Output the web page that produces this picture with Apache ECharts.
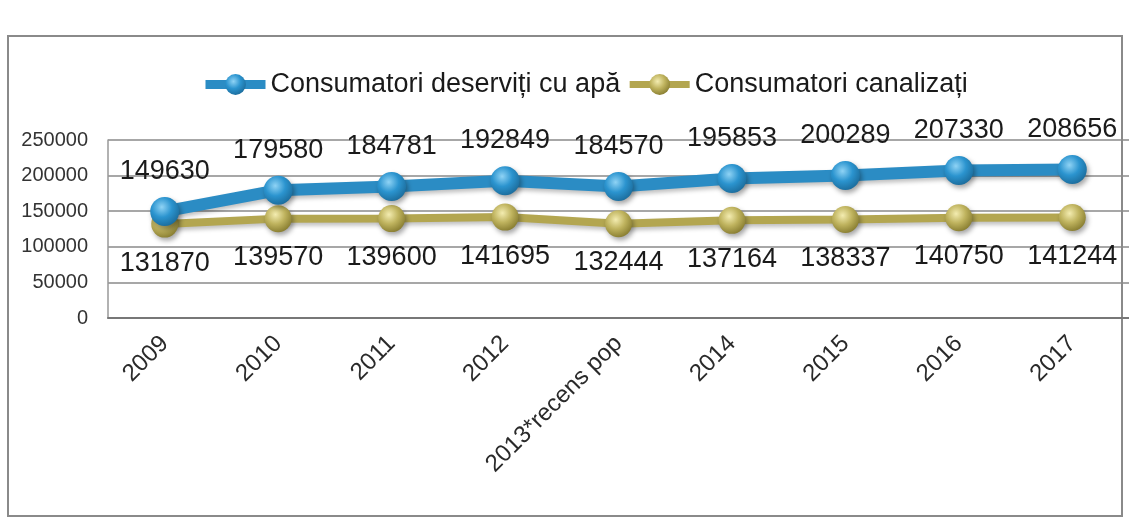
<!DOCTYPE html>
<html>
<head>
<meta charset="utf-8">
<script src="https://cdn.jsdelivr.net/npm/echarts@6/dist/echarts.min.js"></script>
<style>
  html, body { margin: 0; padding: 0; background: #fff; }
  #chart { width: 1129px; height: 525px; }
</style>
</head>
<body>
<div id="chart"></div>
<script>
// date grafic
const categories = ["2009", "2010", "2011", "2012", "2013*recens pop", "2014", "2015", "2016", "2017"];
const apa = [149630, 179580, 184781, 192849, 184570, 195853, 200289, 207330, 208656];
const canalizati = [131870, 139570, 139600, 141695, 132444, 137164, 138337, 140750, 141244];
const yTicks = [0, 50000, 100000, 150000, 200000, 250000];

const fontFam = "Liberation Sans, Arial, sans-serif";

// bila 3D pentru marker
function sphere(light, mid, dark) {
  return {
    type: "radial", x: 0.4, y: 0.35, r: 0.7,
    colorStops: [
      { offset: 0, color: light },
      { offset: 0.5, color: mid },
      { offset: 1, color: dark },
    ],
  };
}

const chart = echarts.init(document.getElementById("chart"));
chart.setOption({
  backgroundColor: "#fff",
  animation: false,
  graphic: [
    {
      type: "rect",
      shape: { x: 8, y: 36, width: 1114, height: 480 },
      style: { fill: "none", stroke: "#8a8a8a", lineWidth: 2 },
    },
  ],
  legend: {
    top: 66,
    left: 196,
    itemWidth: 60,
    itemHeight: 26,
    itemGap: 6,
    textStyle: { fontFamily: fontFam, fontSize: 27, color: "#1a1a1a" },
    data: [
      { name: "Consumatori deserviți cu apă", lineStyle: { width: 9 } },
      { name: "Consumatori canalizați", lineStyle: { width: 7 } },
    ],
  },
  grid: {
    left: 108,
    right: 0,
    top: 140,
    bottom: 207,
  },
  xAxis: {
    type: "category",
    data: categories,
    boundaryGap: true,
    axisLine: { show: true, lineStyle: { color: "#777", width: 2 } },
    axisTick: { show: false },
    axisLabel: {
      rotate: 45,
      margin: 22,
      interval: 0,
      fontFamily: fontFam,
      fontSize: 24,
      color: "#2a2a2a",
    },
  },
  yAxis: {
    type: "value",
    min: 0,
    max: 250000,
    interval: 50000,
    axisLine: { show: true, lineStyle: { color: "#999", width: 1.5 } },
    axisTick: { show: false },
    splitLine: { lineStyle: { color: "#8a8a8a", width: 1.5 } },
    axisLabel: {
      margin: 20,
      fontFamily: fontFam,
      fontSize: 20,
      color: "#333",
      formatter: (v) => (yTicks.includes(v) ? String(v) : ""),
    },
  },
  series: [
    {
      name: "Consumatori deserviți cu apă",
      type: "line",
      data: apa,
      symbol: "circle",
      symbolSize: 29,
      z: 3,
      lineStyle: { color: "#2b8cc4", width: 12, shadowColor: "rgba(0,0,0,0.25)", shadowBlur: 4, shadowOffsetY: 3 },
      itemStyle: {
        color: sphere("#8fd3f5", "#2b94cf", "#1b6a99"),
        borderWidth: 0,
        shadowColor: "rgba(0,0,0,0.35)",
        shadowBlur: 5,
        shadowOffsetX: 2,
        shadowOffsetY: 3,
      },
      label: {
        show: true,
        position: "top",
        distance: 12,
        fontFamily: fontFam,
        fontSize: 27,
        color: "#1a1a1a",
      },
    },
    {
      name: "Consumatori canalizați",
      type: "line",
      data: canalizati,
      symbol: "circle",
      symbolSize: 27,
      z: 2,
      lineStyle: { color: "#b3a650", width: 8, shadowColor: "rgba(0,0,0,0.25)", shadowBlur: 4, shadowOffsetY: 3 },
      itemStyle: {
        color: sphere("#f3ecb0", "#bfb35e", "#857a2e"),
        borderWidth: 0,
        shadowColor: "rgba(0,0,0,0.35)",
        shadowBlur: 5,
        shadowOffsetX: 2,
        shadowOffsetY: 3,
      },
      label: {
        show: true,
        position: "bottom",
        distance: 12,
        fontFamily: fontFam,
        fontSize: 27,
        color: "#1a1a1a",
      },
    },
  ],
});
</script>
</body>
</html>
